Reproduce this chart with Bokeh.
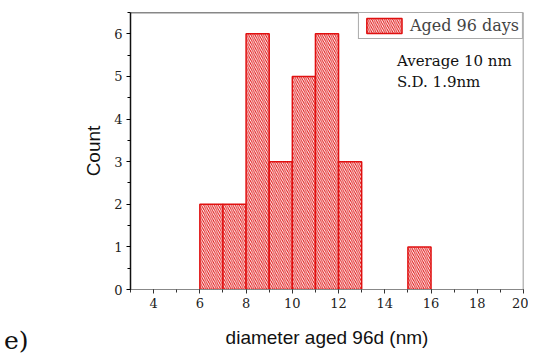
from bokeh.plotting import figure
from bokeh.models import (Range1d, FixedTicker, Label, Span, Legend, LegendItem,
                          ColumnDataSource, Div)
from bokeh.layouts import row
from bokeh.embed import file_html
from bokeh.resources import INLINE

# data
bin_left = [6, 7, 8, 9, 10, 11, 12, 15]
bin_right = [7, 8, 9, 10, 11, 12, 13, 16]
counts = [2, 2, 6, 3, 5, 6, 3, 1]
x_ticks = [4, 6, 8, 10, 12, 14, 16, 18, 20]
y_ticks = [0, 1, 2, 3, 4, 5, 6]
series_name = "Aged 96 days"
panel_tag = "e)"

RED = "#e01010"
SERIF = "DejaVu Serif"
SANS = "Liberation Sans"

p = figure(width=498, height=350, output_backend="svg", toolbar_location=None,
           x_range=Range1d(3, 20), y_range=Range1d(0, 6.5),
           min_border_left=100, min_border_top=12, min_border_right=5,
           min_border_bottom=59)
p.grid.visible = False
p.outline_line_color = None
p.background_fill_color = "white"
p.border_fill_color = "white"

src = ColumnDataSource(dict(left=bin_left, right=bin_right, top=counts,
                            bottom=[0] * len(counts)))
r = p.quad(left="left", right="right", top="top", bottom="bottom", source=src,
           fill_color="white", line_color=RED, line_width=1.5,
           hatch_pattern="\\", hatch_color=RED, hatch_scale=4.2, hatch_weight=1)

# axes
xa = p.xaxis[0]
xa.ticker = FixedTicker(ticks=x_ticks, minor_ticks=list(range(3, 21)))
ya = p.yaxis[0]
ya.ticker = FixedTicker(ticks=y_ticks, minor_ticks=[i * 0.5 for i in range(0, 14)])
for ax in (xa, ya):
    ax.major_label_text_font = SERIF
    ax.major_label_text_font_size = "13px"
    ax.major_label_text_color = "#222"
    ax.major_tick_in = 0
    ax.major_tick_out = 4
    ax.minor_tick_in = 0
    ax.minor_tick_out = 3
    ax.axis_label_text_font = SANS
    ax.axis_label_text_font_style = "normal"
    ax.axis_label_text_font_size = "19px"
    ax.axis_label_text_color = "#111"
    ax.major_label_standoff = 4
xa.axis_line_color = "#888"
xa.major_tick_line_color = "#333"
xa.minor_tick_line_color = "#333"
ya.axis_line_color = "#111"
ya.axis_line_width = 1.5
xa.axis_label = "diameter aged 96d (nm)"
ya.axis_label = "Count"
xa.axis_label_standoff = 16
ya.axis_label_standoff = 7

# frame lines top / right
p.add_layout(Span(location=6.5, dimension="width", line_color="#111", line_width=1.5))
p.add_layout(Span(location=20, dimension="height", line_color="#777", line_width=1.5))

legend = Legend(items=[LegendItem(label=series_name, renderers=[r])],
                location="top_right", margin=0, padding=3, spacing=0,
                glyph_width=44, glyph_height=19,
                label_text_font=SERIF, label_text_font_size="16px",
                label_standoff=4, border_line_color="#555", border_line_width=1.5,
                background_fill_alpha=1)
p.add_layout(legend)

p.add_layout(Label(x=14.53, y=5.36, text="Average 10 nm", text_font=SERIF,
                   text_font_size="15px", text_color="#111",
                   text_baseline="alphabetic"))
p.add_layout(Label(x=14.53, y=4.88, text="S.D. 1.9nm", text_font=SERIF,
                   text_font_size="15px", text_color="#111",
                   text_baseline="alphabetic"))

panel = Div(text='<span style="font-family:\'DejaVu Serif\';font-size:25px;'
                 'color:#111;line-height:30px">' + panel_tag + '</span>',
            width=26, height=30, margin=(326, 0, 0, 4))

layout = row(panel, p)
open("out.html", "w").write(file_html(layout, INLINE))
